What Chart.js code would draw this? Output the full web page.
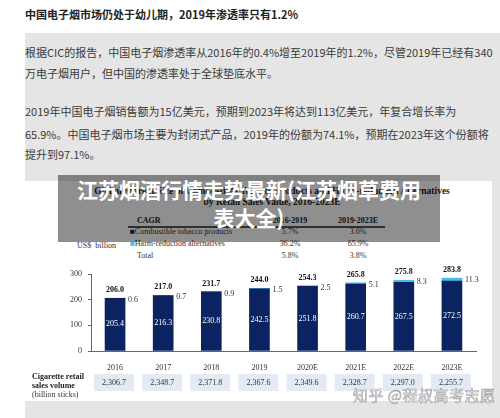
<!DOCTYPE html>
<html>
<head>
<meta charset="utf-8">
<script src="https://cdn.jsdelivr.net/npm/chart.js@4.4.1/dist/chart.umd.min.js"></script>
<style>
  body { margin: 0; width: 500px; height: 418px; background: #fff; position: relative; overflow: hidden;
         font-family: "Noto Sans CJK SC", sans-serif; }
  .abs { position: absolute; white-space: nowrap; }
  .title { left: 25px; top: 5px; font-size: 11px; font-weight: bold; color: #222; line-height: 18px; }
  .grey { left: 25px; top: 33px; width: 475px; height: 385px; background: #e5e5e5; }
  .p { left: 25px; font-size: 11px; color: #3a3a3a; line-height: 21px; }
  .img { left: 25px; top: 181px; width: 467px; height: 220px; background: #fff; }
  .serif { font-family: "Liberation Serif", serif; font-size: 8px; color: #333; line-height: 10px; }
  .b { font-weight: bold; color: #222; }
  .mask { left: 58px; top: 175px; width: 382px; height: 67px; background: rgba(0,0,0,0.44);
          color: #fff; font-weight: bold; font-size: 21px; line-height: 28px; text-align: center; }
  .wm { left: 353px; top: 384px; font-size: 15px; color: #fff; -webkit-text-stroke: 0.6px #9a9a9a; letter-spacing: 0.5px; }
</style>
</head>
<body>
<div class="abs title">中国电子烟市场仍处于幼儿期，2019年渗透率只有1.2%</div>
<div class="abs grey"></div>
<div class="abs p" style="top:42px">根据CIC的报告，中国电子烟渗透率从2016年的0.4%增至2019年的1.2%，尽管2019年已经有340</div>
<div class="abs p" style="top:63px">万电子烟用户，但中国的渗透率处于全球垫底水平。</div>
<div class="abs p" style="top:101px">2019年中国电子烟销售额为15亿美元，预期到2023年将达到113亿美元，年复合增长率为</div>
<div class="abs p" style="top:124px">65.9%。中国电子烟市场主要为封闭式产品，2019年的份额为74.1%，预期在2023年这个份额将</div>
<div class="abs p" style="top:144px">提升到97.1%。</div>

<div class="abs img"></div>
<div class="abs serif b" style="left:25px;top:186px;width:494px;text-align:center;font-size:9.5px;">Global Market Size of Combustible Tobacco Products and Harm-reduction Alternatives</div>
<div class="abs serif b" style="left:25px;top:197px;width:494px;text-align:center;font-size:9.5px;">by Retail Sales Value, 2016-2023E</div>

<div class="abs serif b" style="left:137px;top:216px;">CAGR</div>
<div class="abs serif b" style="left:270px;top:216px;width:40px;text-align:center;">2016-2019</div>
<div class="abs serif b" style="left:336px;top:216px;width:44px;text-align:center;">2019-2023E</div>
<div class="abs" style="left:128px;top:226px;width:257px;height:1.5px;background:#555;"></div>
<div class="abs serif" style="left:130px;top:227px;"><span style="color:#0b2461">■</span>Combustible tobacco products</div>
<div class="abs serif" style="left:130px;top:239px;"><span style="color:#45bfe6">■</span>Harm-reduction alternatives</div>
<div class="abs serif" style="left:137px;top:251px;">Total</div>
<div class="abs serif" style="left:270px;top:227px;width:40px;text-align:center;">5.7%</div>
<div class="abs serif" style="left:270px;top:239px;width:40px;text-align:center;">36.2%</div>
<div class="abs serif" style="left:270px;top:251px;width:40px;text-align:center;">5.8%</div>
<div class="abs serif" style="left:338px;top:227px;width:40px;text-align:center;">3.0%</div>
<div class="abs serif" style="left:338px;top:239px;width:40px;text-align:center;">65.9%</div>
<div class="abs serif" style="left:338px;top:251px;width:40px;text-align:center;">3.8%</div>
<div class="abs serif" style="left:77px;top:241px;">US$&nbsp;&nbsp;billion</div>

<canvas id="c" class="abs" width="467" height="140" style="left:25px;top:262px;"></canvas>

<div class="abs serif" style="left:32px;top:372px;line-height:9px;"><span class="b">Cigarette retail<br>sales volume</span><br>(billion sticks)</div>

<div class="abs mask">江苏烟酒行情走势最新(江苏烟草费用<br>表大全)</div>
<div class="abs wm">知乎 @程叔高考志愿</div>

<script>
// données
const years = ['2016', '2017', '2018', '2019', '2020E', '2021E', '2022E', '2023E'];
const combustible = [205.4, 216.3, 230.8, 242.5, 251.8, 260.7, 267.5, 272.5];
const harmReduction = [0.6, 0.7, 0.9, 1.5, 2.5, 5.1, 8.3, 11.3];
const totals = ['206.0', '217.0', '231.7', '244.0', '254.3', '265.8', '275.8', '283.8'];
const salesVolume = ['2,306.7', '2,348.7', '2,371.8', '2,367.6', '2,349.6', '2,328.7', '2,297.0', '2,255.7'];
const yTicks = [0, 100, 200, 300];

const serif = 'Liberation Serif';

// étiquettes des barres + cases du volume de ventes
const labelsPlugin = {
  id: 'labels',
  afterDatasetsDraw(chart) {
    const ctx = chart.ctx;
    const bottom = chart.getDatasetMeta(0).data;
    const top = chart.getDatasetMeta(1).data;
    ctx.save();
    ctx.font = '8px "' + serif + '"';
    ctx.textAlign = 'center';
    ctx.textBaseline = 'middle';
    bottom.forEach((bar, i) => {
      ctx.fillStyle = '#fff';
      ctx.fillText(combustible[i].toFixed(1), bar.x, (bar.y + bar.base) / 2);
    });
    top.forEach((bar, i) => {
      ctx.textAlign = 'left';
      ctx.fillStyle = '#333';
      ctx.font = '8px "' + serif + '"';
      ctx.fillText(harmReduction[i].toFixed(1), bar.x + bar.width / 2 + 3, bar.y + 2);
      ctx.textAlign = 'center';
      ctx.fillStyle = '#111';
      ctx.font = 'bold 8px "' + serif + '"';
      ctx.fillText(totals[i], bar.x, bar.y - 8);
    });
    // cases sous l'axe
    const xs = chart.scales.x;
    ctx.font = '8px "' + serif + '"';
    salesVolume.forEach((v, i) => {
      const x = xs.getPixelForValue(i);
      ctx.fillStyle = '#e3eaf3';
      ctx.fillRect(x - 21, 112, 40, 17);
      ctx.fillStyle = '#333';
      ctx.fillText(v, x - 1, 121);
    });
    ctx.restore();
  }
};

new Chart(document.getElementById('c').getContext('2d'), {
  type: 'bar',
  data: {
    labels: years,
    datasets: [
      { label: 'Combustible tobacco products', data: combustible, backgroundColor: '#0b2461', barThickness: 20 },
      { label: 'Harm-reduction alternatives', data: harmReduction, backgroundColor: '#45bfe6', barThickness: 20 }
    ]
  },
  options: {
    responsive: false,
    animation: false,
    devicePixelRatio: 1,
    layout: { padding: { top: 12, right: 16, left: 0, bottom: 0 } },
    plugins: { legend: { display: false }, tooltip: { enabled: false } },
    scales: {
      x: {
        stacked: true,
        grid: { display: false },
        border: { display: true, color: '#666', width: 1 },
        ticks: { color: '#333', font: { family: serif, size: 8 }, padding: 4 },
        afterFit: s => { s.height = 51; }
      },
      y: {
        stacked: true,
        min: 0,
        max: 300,
        afterBuildTicks: s => { s.ticks = yTicks.map(v => ({ value: v })); },
        grid: { drawOnChartArea: false, drawTicks: true, tickLength: 3, color: '#666' },
        border: { display: true, color: '#666', width: 1 },
        ticks: { color: '#333', font: { family: serif, size: 8 }, padding: 6 },
        afterFit: s => { s.width = 66; }
      }
    }
  },
  plugins: [labelsPlugin]
});
</script>
</body>
</html>
